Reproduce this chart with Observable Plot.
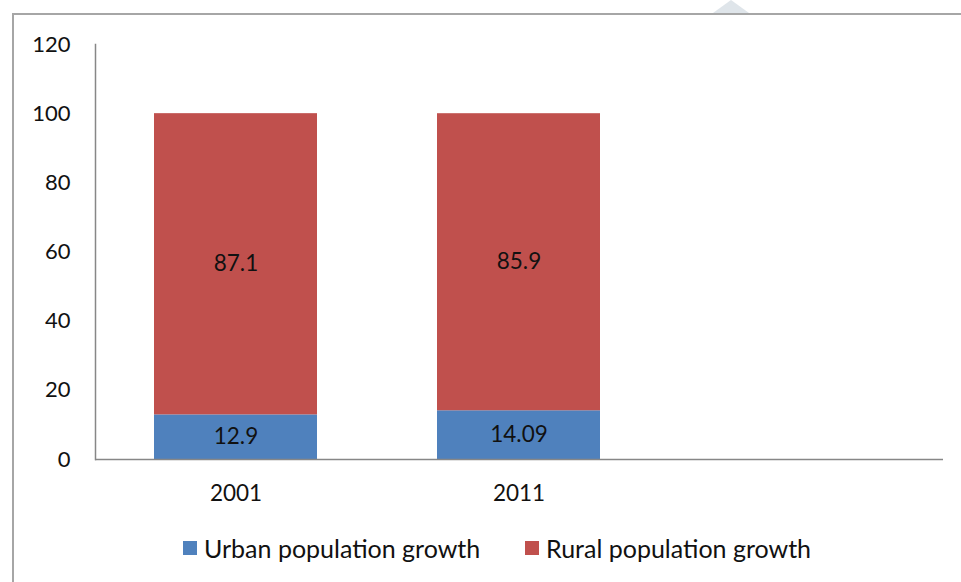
<!DOCTYPE html>
<html>
<head>
<meta charset="utf-8">
<script src="https://cdn.jsdelivr.net/npm/d3@7"></script>
<script src="https://cdn.jsdelivr.net/npm/@observablehq/plot@0.6"></script>
<style>
  html, body { margin: 0; padding: 0; background: #fff; }
  #wrap { position: relative; width: 961px; height: 582px; overflow: hidden; font-family: Lato, "Open Sans", sans-serif; }
  #frame { position: absolute; left: 12px; top: 13px; width: 1000px; height: 600px; border-left: 2px solid #a6a6a6; border-top: 2px solid #a6a6a6; }
  #tri { position: absolute; left: 713px; top: 0; width: 0; height: 0; border-left: 18px solid transparent; border-right: 18px solid transparent; border-bottom: 13px solid #dfe5ea; }
  #chart { position: absolute; left: 0; top: 0; }
  #legend { position: absolute; top: 533px; left: 0; width: 961px; font-size: 25px; color: #111; }
  .item { position: absolute; display: flex; align-items: center; white-space: nowrap; }
  .sw { width: 14px; height: 14px; margin-right: 7px; }
</style>
</head>
<body>
<div id="wrap">
  <div id="tri"></div>
  <div id="frame"></div>
  <div id="chart"></div>
  <div id="legend"></div>
</div>
<script>
const categories = ["2001", "2011", ""];
const years = ["2001", "2011"];
const series = ["Urban population growth", "Rural population growth"];
const urban = [12.9, 14.09];
const rural = [87.1, 85.9];
const colors = ["#4f81bd", "#c0504d"];
const yTicks = [0, 20, 40, 60, 80, 100, 120];

const data = [];
years.forEach((yr, i) => {
  data.push({year: yr, series: series[0], value: urban[i], label: String(urban[i])});
  data.push({year: yr, series: series[1], value: rural[i], label: String(rural[i])});
});

const plot = Plot.plot({
  width: 961,
  height: 520,
  marginTop: 44,
  marginBottom: 61,
  marginLeft: 95,
  marginRight: 18,
  style: {fontFamily: "Lato, 'Open Sans', sans-serif", fontSize: "22px", color: "#111", background: "transparent"},
  x: {domain: categories, paddingInner: 0.424, paddingOuter: 0.21, label: null},
  y: {domain: [0, 120], label: null},
  color: {domain: series, range: colors},
  marks: [
    Plot.barY(data, {x: "year", y: "value", fill: "series", order: series}),
    Plot.text(data, Plot.stackY({x: "year", y: "value", z: "series", order: series, text: "label", fill: "#111", fontSize: 22.5})),
    Plot.axisY({ticks: yTicks, tickSize: 0, tickPadding: 25, fontSize: 22, fill: "#111"}),
    Plot.axisX({tickSize: 0, tickPadding: 26, fontSize: 22.5, fill: "#111"}),
    Plot.frame({anchor: "left", stroke: "#878787", strokeWidth: 1.5}),
    Plot.ruleY([0], {stroke: "#878787", strokeWidth: 1.5})
  ]
});
document.getElementById("chart").appendChild(plot);

const legend = document.getElementById("legend");
const lefts = [183, 525];
series.forEach((s, i) => {
  const it = document.createElement("div");
  it.className = "item";
  it.style.left = lefts[i] + "px";
  it.innerHTML = `<div class="sw" style="background:${colors[i]}"></div><span>${s}</span>`;
  legend.appendChild(it);
});
</script>
</body>
</html>
